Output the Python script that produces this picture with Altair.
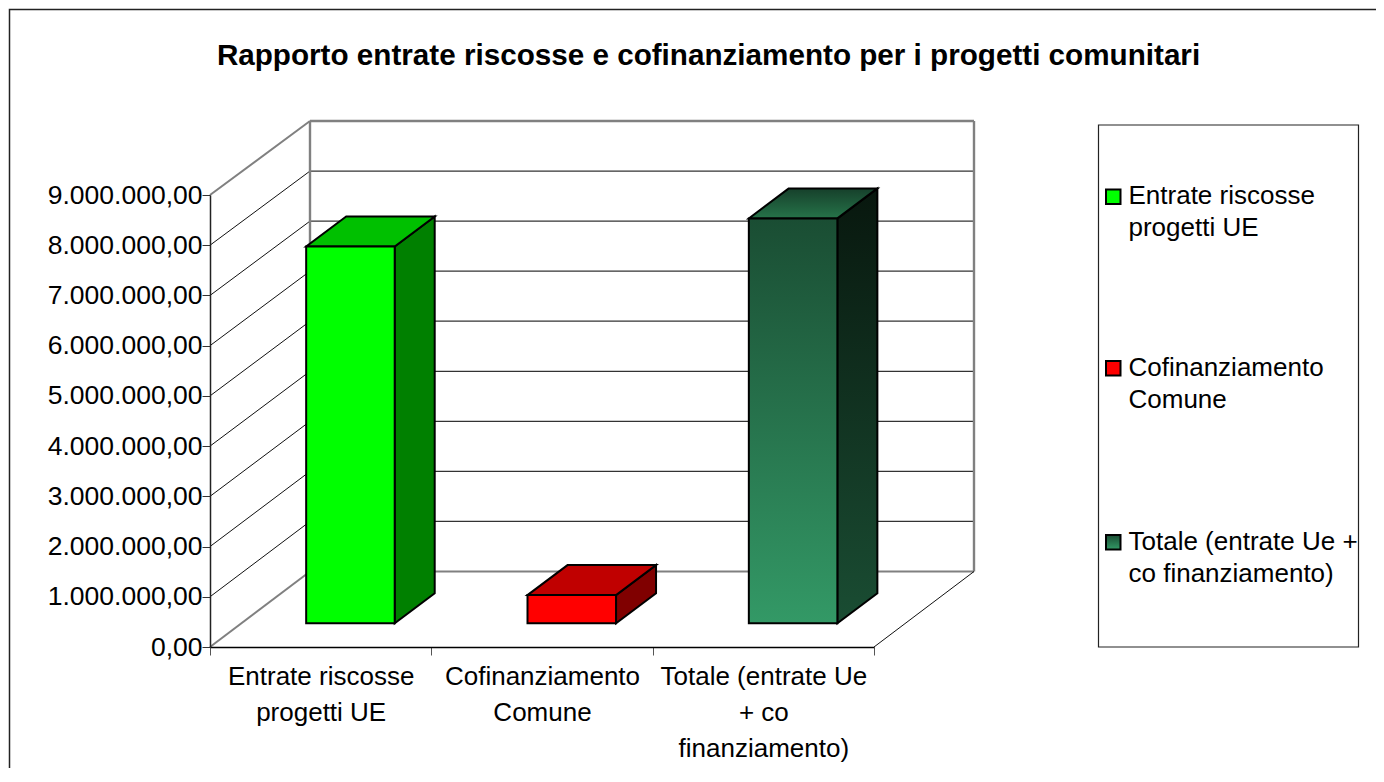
import altair as alt
import pandas as pd

TITLE = "Rapporto entrate riscosse e cofinanziamento per i progetti comunitari"
CATEGORY_AXIS = ["Entrate riscosse|progetti UE", "Cofinanziamento|Comune", "Totale (entrate Ue|+ co|finanziamento)"]
LEGEND_LABELS = ["Entrate riscosse|progetti UE", "Cofinanziamento|Comune", "Totale (entrate Ue +|co finanziamento)"]
VALUES = [7500000, 560000, 8060000]
Y_TICKS = [0, 1000000, 2000000, 3000000, 4000000, 5000000, 6000000, 7000000, 8000000, 9000000]
Y_TICK_LABELS = ["0,00", "1.000.000,00", "2.000.000,00", "3.000.000,00", "4.000.000,00",
                 "5.000.000,00", "6.000.000,00", "7.000.000,00", "8.000.000,00", "9.000.000,00"]

FONT = "Liberation Sans"
FS = 26

# page geometry of the front axis box
X0, X1, Y0, Y9 = 210, 874, 647, 195
W, H = X1 - X0, Y0 - Y9
CAT_PX = W / 3
VAL_PX = H / 9e6
PAGE_BOTTOM = 768
PAGE_RIGHT = 1376


def cx(px):
    return (px - X0) / CAT_PX


def vy(py):
    return (Y0 - py) / VAL_PX


def gx(px):
    return px - X0


def gy(py):
    return py - Y0 + H


xs = alt.Scale(domain=[0, 3], nice=False, zero=False)
ys = alt.Scale(domain=[0, 9000000], nice=False, zero=False)
XQ = lambda f: alt.X(f, type="quantitative", scale=xs, axis=None)
YQ = lambda f: alt.Y(f, type="quantitative", scale=ys, axis=None)


def seg(pts, color, width):
    df = pd.DataFrame([{"x": cx(a), "y": vy(b), "o": i} for i, (a, b) in enumerate(pts)])
    return alt.Chart(df).mark_line(color=color, strokeWidth=width, clip=False).encode(
        x=XQ("x"), y=YQ("y"), order="o:Q")


def vgrad(top, bottom):
    return alt.Gradient(gradient="linear", x1=0, x2=0, y1=0, y2=1,
                        stops=[alt.GradientStop(offset=0, color=top), alt.GradientStop(offset=1, color=bottom)])


layers = []

# outer frame: only its top and left edges fall inside the picture
layers.append(seg([(9.5, PAGE_BOTTOM), (9.5, 9.5), (PAGE_RIGHT, 9.5)], "#222222", 1.5))

# walls: grid lines on the side and back wall
BX0, BX1, BY0, BY9 = 310, 974, 571.5, 121
for i, v in enumerate(Y_TICKS):
    fy = Y0 - v * VAL_PX
    by = BY0 - (BY0 - BY9) * i / 9
    edge = i in (0, 9)
    layers.append(seg([(X0, fy), (BX0, by)], "#808080" if edge else "#111111", 2 if edge else 1))
    if 0 < i < 9:
        layers.append(seg([(BX0, by), (BX1, by)], "#333333", 1.2))
layers.append(seg([(BX0, BY0), (BX1, BY0)], "#808080", 2))
layers.append(seg([(BX0, BY9), (BX1, BY9)], "#808080", 2.4))
layers.append(seg([(BX0, BY9), (BX0, BY0)], "#808080", 2.4))
layers.append(seg([(BX1, BY9), (BX1, BY0)], "#808080", 2.4))
layers.append(seg([(X1, Y0), (BX1, BY0)], "#111111", 1))

# bars
BAR_LEFT = 0.4345
BAR_WIDTH = 0.4
BASE = 23.8 / VAL_PX
DX = 40 / CAT_PX
DY = 30 / VAL_PX
STROKE = dict(stroke="black", strokeWidth=2)
STYLE = [
    dict(front="#00ff00", top="#00c000", side="#008000"),
    dict(front="#ff0000", top="#c00000", side="#800000"),
    dict(front=vgrad("#1a4d33", "#339966"), top=vgrad("#16402b", "#267349"), side=vgrad("#08170e", "#1a4d33")),
]
for i, v in enumerate(VALUES):
    l, r = i + BAR_LEFT, i + BAR_LEFT + BAR_WIDTH
    b, t = BASE, BASE + v
    s = STYLE[i]
    side = pd.DataFrame({"x": [r, r + DX], "y": [t, t + DY], "y2": [b, b + DY]})
    top = pd.DataFrame({"x": [l, l + DX], "x2": [r, r + DX], "y": [t, t + DY]})
    front = pd.DataFrame({"x": [l], "x2": [r], "y": [t], "y2": [b]})
    layers.append(alt.Chart(side).mark_area(color=s["side"], **STROKE).encode(
        x=XQ("x"), y=YQ("y"), y2="y2:Q"))
    layers.append(alt.Chart(top).mark_area(color=s["top"], orient="horizontal", **STROKE).encode(
        y=YQ("y"), x=XQ("x"), x2="x2:Q"))
    layers.append(alt.Chart(front).mark_rect(color=s["front"], **STROKE).encode(
        x=XQ("x"), x2="x2:Q", y=YQ("y"), y2="y2:Q"))

# y axis
lab = "[" + ",".join("'%s'" % t for t in Y_TICK_LABELS) + "][round(datum.value/1000000)]"
layers.append(alt.Chart(pd.DataFrame({"v": Y_TICKS})).mark_point(opacity=0).encode(
    y=alt.Y("v:Q", scale=ys, axis=alt.Axis(
        values=Y_TICKS, title=None, grid=False, labelExpr=lab, tickSize=8, tickColor="#333333",
        domainColor="#222222", domainWidth=1.5, labelFont=FONT, labelFontSize=26.5, labelColor="black",
        labelPadding=0, labelOverlap=False, labelFlush=False, labelLimit=400, zindex=1))))

# x axis (categories)
layers_x = alt.Chart(pd.DataFrame({"c": CATEGORY_AXIS})).mark_point(opacity=0).encode(
    x=alt.X("c:N", sort=None, scale=alt.Scale(domain=CATEGORY_AXIS, paddingInner=0, paddingOuter=0), axis=alt.Axis(
        title=None, grid=False, labelAngle=0, tickBand="extent", tickSize=8, tickColor="#555555",
        domainColor="black", domainWidth=1.5, labelFont=FONT, labelFontSize=FS, labelColor="black",
        labelPadding=8, labelLineHeight=36, labelExpr="split(datum.label,'|')", labelBaseline="top",
        labelOverlap=False, labelLimit=400, zindex=1)))
layers.append(layers_x)

# legend
LEG = [(196, 189.5), (368, 361), (542, 535)]
layers.append(alt.Chart(pd.DataFrame({"a": [0]})).mark_rect(fill="white", stroke="#222222", strokeWidth=1.2).encode(
    x=alt.value(gx(1098.5)), x2=alt.value(gx(1358.5)), y=alt.value(gy(125)), y2=alt.value(gy(647))))
LEG_FILL = ["#00ff00", "#ff0000", vgrad("#1a4d33", "#339966")]
for (cy, sy), label, fill in zip(LEG, LEGEND_LABELS, LEG_FILL):
    layers.append(alt.Chart(pd.DataFrame({"a": [0]})).mark_rect(color=fill, stroke="black", strokeWidth=2).encode(
        x=alt.value(gx(1106)), x2=alt.value(gx(1120.5)), y=alt.value(gy(sy)), y2=alt.value(gy(sy + 14.5))))
    layers.append(alt.Chart(pd.DataFrame({"t": [label]})).mark_text(
        align="left", baseline="middle", font=FONT, fontSize=FS, color="black", lineBreak="|", lineHeight=32).encode(
        x=alt.value(gx(1128.5)), y=alt.value(gy(cy)), text="t:N"))

# title
layers.append(alt.Chart(pd.DataFrame({"t": [TITLE]})).mark_text(
    align="center", baseline="middle", font=FONT, fontSize=29.65, fontWeight="bold", color="black").encode(
    x=alt.value(gx(708.5)), y=alt.value(gy(56)), text="t:N"))

chart = alt.layer(*layers).resolve_scale(x="independent").resolve_axis(y="independent").properties(
    width=W, height=H,
    background="white",
    autosize=alt.AutoSizeParams(type="none"),
    padding={"left": X0 - 8, "top": Y9 - 8, "right": PAGE_RIGHT - 8 - X1 + 8, "bottom": PAGE_BOTTOM - Y0},
).configure_view(stroke=None)

chart.save("out.html", embed_options={"renderer": "svg", "actions": False})
